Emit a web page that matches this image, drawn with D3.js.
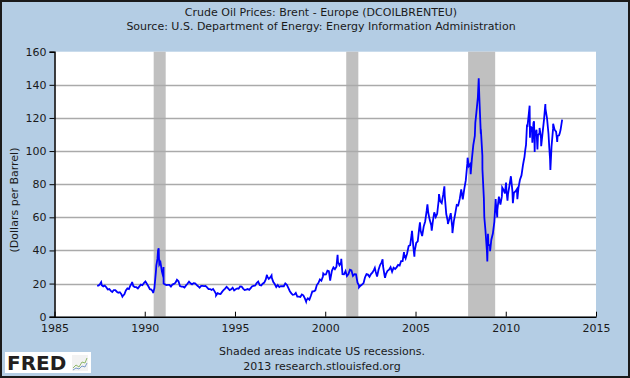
<!DOCTYPE html>
<html><head><meta charset="utf-8">
<script src="https://cdn.jsdelivr.net/npm/d3@7"></script>
<style>
html,body{margin:0;padding:0;background:#fff;}
svg text{font-family:"DejaVu Sans",Verdana,sans-serif;}
</style></head>
<body><svg id="chart" width="630" height="378"></svg>
<script>
// ---- DATA ----
const titleLines = ["Crude Oil Prices: Brent - Europe (DCOILBRENTEU)",
  "Source: U.S. Department of Energy: Energy Information Administration"];
const yLabel = "(Dollars per Barrel)";
const footerLines = ["Shaded areas indicate US recessions.", "2013 research.stlouisfed.org"];
const yTicks = [0, 20, 40, 60, 80, 100, 120, 140, 160];
const xTickYears = [1985, 1990, 1995, 2000, 2005, 2010, 2015];
const recessionStarts = ["1990-07-01", "2001-03-01", "2007-12-01"];
const recessionEnds = ["1991-03-01", "2001-11-01", "2009-06-01"];

// monthly Brent prices, starting May 1987
const firstMonth = "1987-05-15";
const monthlyValues = [
  18.6, 18.9, 19.9, 19.0, 18.3, 18.8, 17.8, 16.4,
  16.7, 15.6, 14.9, 16.1, 16.1, 15.1, 14.5, 14.8, 13.6, 12.5, 13.5, 15.9,
  17.1, 16.7, 18.7, 20.3, 18.5, 17.9, 17.8, 17.1, 18.3, 19.4, 19.0, 20.3,
  21.3, 19.8, 18.4, 16.6, 16.4, 15.1, 17.2, 27.2, 34.9, 36.0, 32.8, 27.3,
  23.6, 19.5, 19.1, 19.2, 19.2, 18.2, 19.4, 19.8, 20.5, 22.3, 21.4, 18.5,
  18.2, 18.1, 17.6, 18.9, 19.9, 21.2, 20.2, 19.5, 20.3, 20.2, 19.2, 18.4,
  17.5, 18.6, 18.6, 18.5, 18.6, 17.7, 16.7, 16.7, 16.1, 16.7, 15.3, 13.7,
  14.2, 13.8, 13.7, 15.0, 16.1, 17.0, 18.0, 17.1, 16.0, 16.5, 17.5, 15.9,
  16.6, 17.1, 16.9, 18.3, 18.2, 17.0, 16.1, 16.4, 16.7, 16.2, 17.3, 18.4,
  18.6, 18.8, 20.3, 21.2, 19.1, 18.9, 19.9, 20.6, 22.5, 24.2, 22.8, 23.7,
  23.5, 20.9, 19.7, 17.9, 19.1, 17.9, 18.5, 18.4, 18.4, 20.1, 19.3, 17.4,
  15.4, 14.1, 13.2, 13.4, 14.4, 12.1, 12.1, 11.9, 13.4, 12.9, 11.0, 9.8,
  11.1, 10.3, 12.5, 15.3, 15.3, 15.9, 19.1, 20.3, 22.5, 21.7, 24.3, 25.4,
  25.5, 27.8, 27.5, 22.8, 27.7, 29.8, 28.7, 30.2, 33.1, 31.0, 32.6, 25.7,
  25.6, 27.5, 24.5, 25.7, 28.3, 27.9, 24.6, 25.7, 25.6, 20.5, 18.8, 18.7,
  19.4, 20.3, 23.7, 25.7, 25.4, 24.1, 25.7, 26.7, 28.4, 27.5, 24.3, 28.3,
  31.2, 32.8, 30.6, 25.0, 25.9, 27.7, 28.4, 29.9, 27.1, 29.6, 28.8, 29.8,
  31.3, 30.9, 33.6, 33.6, 37.6, 35.2, 38.2, 42.7, 43.2, 49.8, 43.1, 39.6,
  44.5, 45.5, 53.1, 51.9, 48.7, 54.4, 57.5, 64.0, 62.9, 58.5, 55.2, 56.9,
  63.0, 60.2, 62.1, 70.3, 69.8, 68.6, 73.7, 73.2, 62.0, 57.8, 58.8, 62.5,
  53.7, 57.6, 62.1, 67.5, 67.2, 71.1, 76.9, 70.8, 77.2, 82.3, 92.4, 90.9,
  92.2, 95.0, 103.6, 109.1, 122.8, 132.3, 132.7, 113.2, 97.2, 71.6, 52.5, 40.0,
  43.4, 43.3, 46.5, 50.2, 57.3, 68.6, 64.4, 72.5, 67.7, 72.8, 76.7, 74.5,
  76.2, 73.8, 78.8, 84.8, 76.0, 74.8, 75.6, 77.0, 77.8, 82.7, 85.3, 91.5,
  96.5, 103.7, 114.6, 123.3, 115.0, 113.8, 117.0, 110.2, 112.8, 109.6, 110.8, 107.9,
  110.7, 119.3, 125.5, 119.8, 110.3, 95.2, 102.6, 113.4, 112.9, 111.7, 109.1, 109.5,
  113.0, 119.0
];
// daily highs / lows visible in the chart
const extremeDates = ["1987-08-03","1988-10-06","1989-04-20","1990-06-20","1990-08-24","1990-09-27","1990-10-10","1990-10-23","1991-01-16","1991-01-18",
  "1993-12-15","1996-10-09","1997-01-10","1998-12-10","1999-11-22","2000-04-10","2000-09-07","2000-11-21",
  "2001-11-15","2002-10-01","2003-03-07","2003-04-25","2004-05-13","2004-10-22","2004-12-09","2005-04-01","2005-08-30","2005-11-25","2006-04-21","2006-08-08","2006-10-18","2007-01-18","2007-11-21",
  "2008-01-22","2008-04-25","2008-07-03","2008-08-14","2008-09-16","2008-10-24","2008-12-24","2009-01-06","2009-02-18","2009-06-11","2009-07-13","2009-10-21","2010-01-07","2010-02-05","2010-05-25","2010-08-24","2010-12-30","2011-01-31","2011-03-07","2011-04-29","2011-05-06",
  "2011-06-23","2011-07-27","2011-08-09","2011-10-04","2011-11-16","2011-12-19","2012-03-12","2012-05-31","2012-06-22","2012-08-17","2012-10-31","2012-11-07","2012-12-31"];
const extremeValues = [20.8, 12.1, 21.0, 14.3, 31.0, 40.0, 41.3, 31.5, 30.0, 20.0,
  12.9, 25.3, 24.9, 9.1, 26.1, 21.8, 37.4, 35.0,
  17.7, 29.5, 34.6, 23.5, 39.0, 51.8, 36.3, 57.0, 67.9, 52.0, 74.0, 78.7, 56.0, 50.5, 96.0,
  86.0, 117.0, 143.9, 110.5, 89.0, 60.0, 33.3, 50.0, 39.5, 71.0, 60.0, 78.0, 81.0, 70.0, 68.5, 71.0, 94.0, 100.8, 116.0, 127.4, 108.0,
  105.0, 118.0, 99.5, 101.0, 114.0, 103.0, 128.4, 102.0, 88.6, 116.5, 108.0, 105.5, 111.0];

// ---- CHART ----
const W = 630, H = 378;
const plot = {left: 54.5, right: 596, top: 51.7, bottom: 316.7};
const svg = d3.select("#chart");
const parse = d3.timeParse("%Y-%m-%d");

svg.append("rect").attr("x", 1).attr("y", 1).attr("width", W - 2).attr("height", H - 2)
  .attr("fill", "#b4cde4").attr("stroke", "#1a1a1a").attr("stroke-width", 2);

const x = d3.scaleTime().domain([new Date(1985, 0, 1), new Date(2015, 0, 1)]).range([plot.left, plot.right]);
const y = d3.scaleLinear().domain([0, 160]).range([plot.bottom, plot.top]);

svg.append("rect").attr("x", plot.left).attr("y", plot.top)
  .attr("width", plot.right - plot.left).attr("height", plot.bottom - plot.top).attr("fill", "#fff");

// recessions
svg.append("g").selectAll("rect").data(recessionStarts.map((s, i) => [parse(s), parse(recessionEnds[i])]))
  .join("rect")
  .attr("x", d => x(d[0])).attr("width", d => x(d[1]) - x(d[0]))
  .attr("y", plot.top).attr("height", plot.bottom - plot.top).attr("fill", "#c0c0c0");

// gridlines
svg.append("g").selectAll("line").data(yTicks.filter(v => v > 0 && v < 160)).join("line")
  .attr("x1", plot.left).attr("x2", plot.right)
  .attr("y1", d => Math.round(y(d)) + 0.5).attr("y2", d => Math.round(y(d)) + 0.5)
  .attr("stroke", "#aaaaaa").attr("stroke-width", 1.5);

// data
const start = parse(firstMonth);
const series = monthlyValues.map((v, i) => ({date: d3.timeMonth.offset(start, i), value: v}))
  .concat(extremeDates.map((d, i) => ({date: parse(d), value: extremeValues[i]})))
  .sort((a, b) => a.date - b.date);

svg.append("path").datum(series)
  .attr("fill", "none").attr("stroke", "#0000ff").attr("stroke-width", 1.8)
  .attr("stroke-linejoin", "miter")
  .attr("d", d3.line().x(d => x(d.date)).y(d => y(d.value)));

// axes
const yAxis = d3.axisLeft(y).tickValues(yTicks).tickSize(5).tickPadding(3);
const gy = svg.append("g").attr("transform", `translate(${plot.left},0)`).call(yAxis);
gy.select(".domain").attr("stroke", "#000").attr("stroke-width", 1.5);
gy.selectAll(".tick line").attr("stroke", "#000");
gy.selectAll("text").attr("font-size", 11).attr("fill", "#1a1a1a").attr("font-family", "DejaVu Sans");

const xAxis = d3.axisBottom(x).tickValues(xTickYears.map(yr => new Date(yr, 0, 1)))
  .tickFormat(d3.timeFormat("%Y")).tickSizeInner(-5).tickSizeOuter(0).tickPadding(8);
const gx = svg.append("g").attr("transform", `translate(0,${plot.bottom})`).call(xAxis);
gx.select(".domain").attr("stroke", "#000").attr("stroke-width", 1.5);
gx.selectAll(".tick line").attr("stroke", "#000");
gx.selectAll("text").attr("font-size", 11).attr("fill", "#1a1a1a").attr("font-family", "DejaVu Sans");

// titles
svg.append("g").selectAll("text").data(titleLines).join("text")
  .attr("x", 321).attr("y", (d, i) => 16 + i * 14).attr("text-anchor", "middle")
  .attr("font-size", 11).attr("fill", "#1a1a1a").text(d => d);

svg.append("text").attr("transform", "translate(18,200) rotate(-90)").attr("text-anchor", "middle")
  .attr("font-size", 11).attr("fill", "#1a1a1a").text(yLabel);

svg.append("g").selectAll("text").data(footerLines).join("text")
  .attr("x", 322).attr("y", (d, i) => 355 + i * 15).attr("text-anchor", "middle")
  .attr("font-size", 11).attr("fill", "#1a1a1a").text(d => d);

// FRED logo
const logo = svg.append("g");
logo.append("rect").attr("x", 5).attr("y", 352).attr("width", 86).attr("height", 21).attr("fill", "#fff");
logo.append("text").attr("x", 7).attr("y", 370).attr("font-size", 20).attr("font-weight", "bold")
  .attr("font-family", "DejaVu Sans").attr("letter-spacing", 0).attr("fill", "#231f20").text("FRED");
logo.append("rect").attr("x", 72).attr("y", 355).attr("width", 16).attr("height", 16).attr("fill", "#f2f2f2");
logo.append("polyline").attr("points", "73,368 76,365 79,367 82,362 85,363 87,358")
  .attr("fill", "none").attr("stroke", "#8fb86a").attr("stroke-width", 1);
logo.append("polyline").attr("points", "73,370 76,368 79,369 82,366 85,367 87,363")
  .attr("fill", "none").attr("stroke", "#7a9cc8").attr("stroke-width", 1);
</script></body></html>
